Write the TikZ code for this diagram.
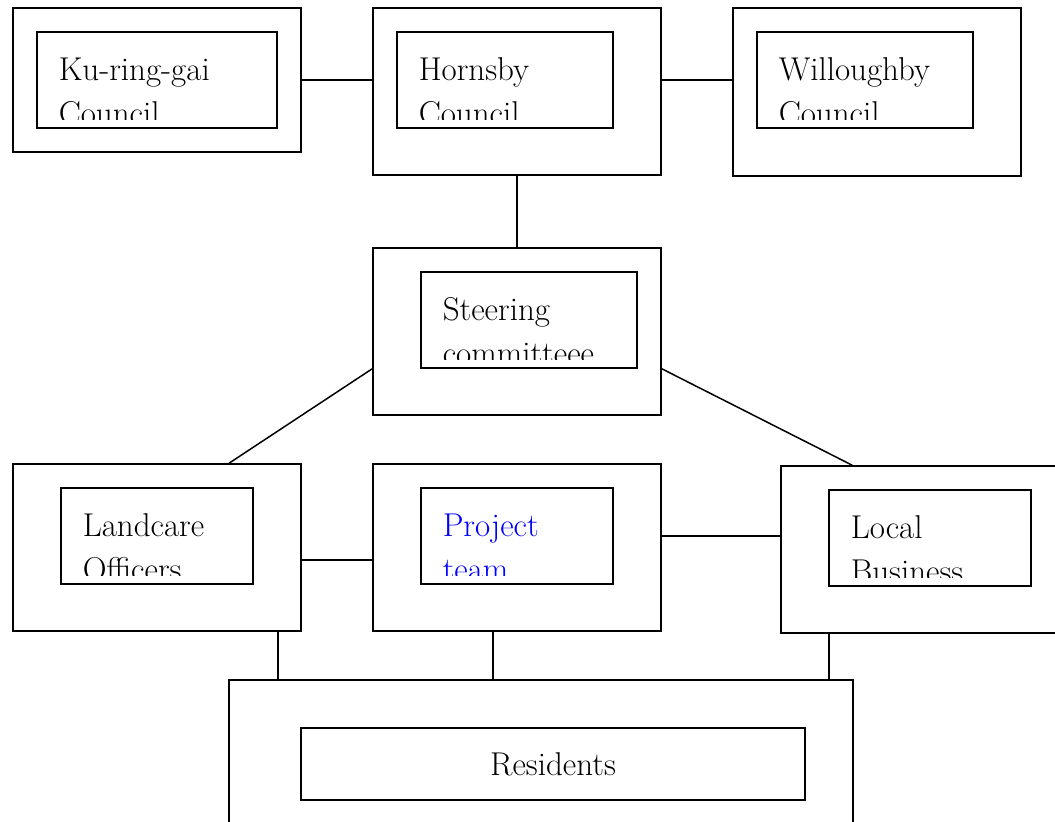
\documentclass[tikz,border=0pt]{standalone}
\usepackage{tikz}
\usetikzlibrary{fit, calc}
\newcommand{\boxfont}{\fontsize{33}{44}\selectfont}
\tikzset{
  frame/.style={rectangle, draw, line width=1.5pt, inner sep=0pt},
  outer/.style={frame},
  inner/.style 2 args={frame, path picture={
      \clip ([yshift=9pt]path picture bounding box.south west)
            rectangle (path picture bounding box.north east);
      \node[anchor=north west, inner sep=0pt, align=left, font=\boxfont, text=#2]
        at ([xshift=21pt, yshift=-22pt]path picture bounding box.north west) {#1};}},
  link/.style={line width=1.5pt},
}

\begin{document}
\begin{tikzpicture}[x=1pt, y=-1pt]
  \path[use as bounding box, fill=white] (0,0) rectangle (1055,822);
  \clip (0,0) rectangle (1055,822);
  % councils
  \node[outer, fit={(13,8) (301,152)}] (kgOut) {};
  \node[inner={Ku-ring-gai\\Council}{black}, fit={(37,32) (277,128)}] (kg) {};
  \node[outer, fit={(373,8) (661,175)}] (hbOut) {};
  \node[inner={Hornsby\\Council}{black}, fit={(397,32) (613,128)}] (hb) {};
  \node[outer, fit={(733,8) (1021,176)}] (wlOut) {};
  \node[inner={Willoughby\\Council}{black}, fit={(757,32) (973,128)}] (wl) {};
  % steering
  \node[outer, fit={(373,248) (661,415)}] (stOut) {};
  \node[inner={Steering\\committeee}{black}, fit={(421,272) (637,368)}] (st) {};
  % third row
  \node[outer, fit={(13,464) (301,631)}] (lcOut) {};
  \node[inner={Landcare\\Officers}{black}, fit={(61,488) (253,584)}] (lc) {};
  \node[outer, fit={(373,464) (661,631)}] (pjOut) {};
  \node[inner={Project\\team}{blue}, fit={(421,488) (613,584)}] (pj) {};
  \node[outer, fit={(781,466) (1064,633)}] (lbOut) {};
  \node[inner={Local\\Business}{black}, fit={(829,490) (1031,586)}] (lb) {};
  % residents
  \node[outer, fit={(229,680) (853,832)}] (rsOut) {};
  \node[frame, font=\boxfont, minimum width=504pt, minimum height=72pt] (rs) at (553,764) {Residents};
  % links
  \draw[link] (hb.center -| kgOut.east) -- (hb.center -| hbOut.west);
  \draw[link] (hb.center -| hbOut.east) -- (hb.center -| wlOut.west);
  \draw[link] (hbOut.south) -- (stOut.north);
  \draw[link] (st.south -| stOut.west) -- ([xshift=72pt]lcOut.north);
  \draw[link] (st.south -| stOut.east) -- ([xshift=72pt]lbOut.north west);
  \draw[link] ([yshift=-12.5pt]lcOut.east) -- ([yshift=-12.5pt]lcOut.east -| pjOut.west);
  \draw[link] (pj.center -| pjOut.east) -- (pj.center -| lbOut.west);
  \draw[link] ([xshift=-24pt]lcOut.south east) -- ([xshift=-24pt]lcOut.south east |- rsOut.north);
  \draw[link] ([xshift=-24pt]pjOut.south) -- ([xshift=-24pt]pjOut.south |- rsOut.north);
  \draw[link] ([xshift=0.5pt]lb.west |- lbOut.south) -- ([xshift=0.5pt]lb.west |- rsOut.north);
\end{tikzpicture}
\end{document}
